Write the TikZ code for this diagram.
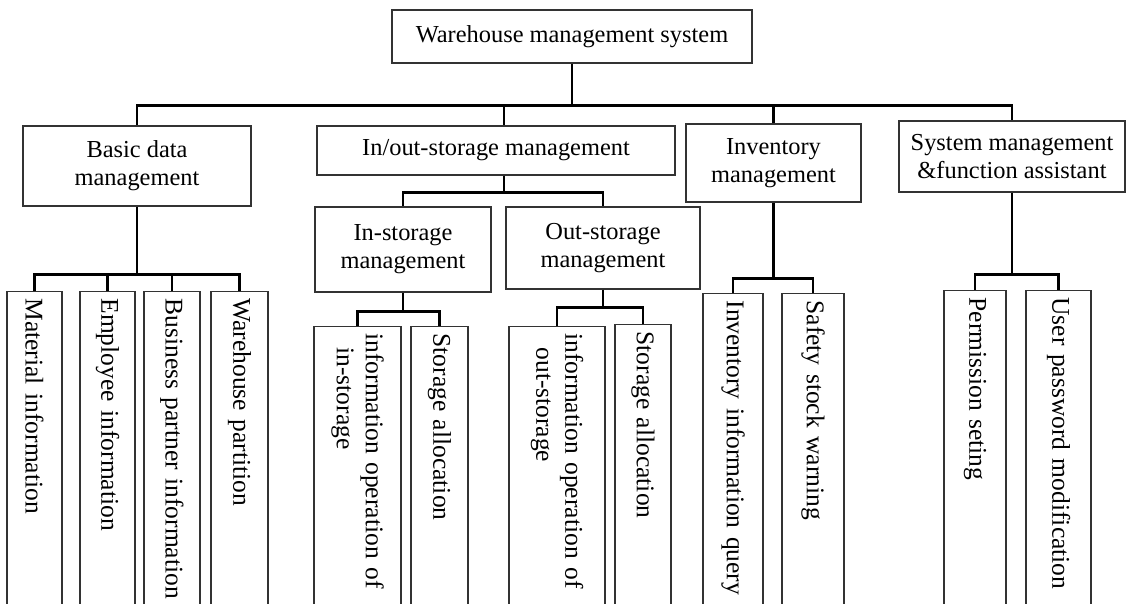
\documentclass[tikz,border=0pt]{standalone}
\usepackage{fontspec}
\setmainfont{Liberation Serif}
\usepackage{xcolor}
\definecolor{frame}{gray}{0.2}
\tikzset{
  every node/.style={
    text=black
  },
  box/.style={
    draw=frame, line width=1.1pt, align=center, inner sep=2pt,
    font=\fontsize{24.4}{28}\selectfont
  },
  leaf/.style={
    draw=frame, line width=1.1pt, rotate=-90, anchor=west,
    text width=322pt, align=left, inner xsep=7pt, inner ysep=2pt,
    font=\fontsize{25.5}{29}\selectfont
  },
  link/.style={
    line width=2.4pt, black
  }
}

\begin{document}
\begin{tikzpicture}[x=1pt,y=-1pt]
    \useasboundingbox (0,0) rectangle (1126,603);
    \clip (0,0) rectangle (1126,603);
    % top level
    \node[box, minimum width=360pt, minimum height=53pt] (wms) at (572,36.5) {Warehouse management system};
    \node[box, minimum width=228pt, minimum height=80pt] (basic) at (137,166) {Basic data\\management};
    \node[box, minimum width=358pt, minimum height=49pt] (io) at (496,150.5) {In/out-storage management};
    \node[box, minimum width=175pt, minimum height=78pt] (inv) at (773.5,163) {Inventory\\management};
    \node[box, minimum width=226pt, minimum height=71pt] (sys) at (1012,156.5) {System management\\\&function assistant};
    \node[box, minimum width=176pt, minimum height=85pt] (instor) at (403,249.5) {In-storage\\management};
    \node[box, minimum width=194pt, minimum height=82pt] (outstor) at (603,248) {Out-storage\\management};

    % leaves (text runs downwards)
    \node[leaf, minimum height=55pt] (mat) at (34.5,291) {Material information};
    \node[leaf, minimum height=55pt] (emp) at (107.5,291) {Employee information};
    \node[leaf, minimum height=56pt] (partner) at (172,291) {Business partner information};
    \node[leaf, minimum height=57pt] (part) at (239.5,291) {Warehouse partition};
    \node[leaf, minimum height=87pt] (inop) at (357.5,326) {information operation of\\\hspace*{14pt}in-storage};
    \node[leaf, minimum height=57pt] (inalloc) at (439.5,326) {Storage allocation};
    \node[leaf, minimum height=96pt] (outop) at (557,326) {information operation of\\\hspace*{14pt}out-storage};
    \node[leaf, minimum height=56pt] (outalloc) at (643,324) {Storage allocation};
    \node[leaf, minimum height=60pt] (query) at (733,293) {Inventory information query};
    \node[leaf, minimum height=62pt] (safety) at (813,293) {Safety stock warning};
    \node[leaf, minimum height=62pt] (perm) at (975,290) {Permission seting};
    \node[leaf, minimum height=65pt] (pwd) at (1058.5,290) {User password modification};

    % buses
    \path (wms.south) ++(0,42) coordinate (wmsbus);
    \path (basic.south) ++(0,68) coordinate (basicbus);
    \path ([xshift=8pt]io.south) ++(0,17) coordinate (iobus);
    \path (instor.south) ++(0,19) coordinate (inbus);
    \path (outstor.south) ++(0,18) coordinate (outbus);
    \path (inv.south) ++(0,76) coordinate (invbus);
    \path (sys.south) ++(0,82) coordinate (sysbus);

    \draw[link] (wms.south) -- (wmsbus);
    \foreach \n in {basic,inv,sys}
      \draw[link] (wmsbus) -| (\n.north);
    \draw[link] (wmsbus) -| ([xshift=8pt]io.north);

    \draw[link] (basic.south) -- (basicbus);
    \foreach \n in {mat,emp,partner,part}
      \draw[link] (basicbus) -| (\n.west);

    \draw[link] ([xshift=8pt]io.south) -- (iobus);
    \draw[link] (iobus) -| (instor.north);
    \draw[link] (iobus) -| (outstor.north);

    \draw[link] (instor.south) -- (inbus);
    \draw[link] (inbus) -| (inop.west);
    \draw[link] (inbus) -| (inalloc.west);

    \draw[link] (outstor.south) -- (outbus);
    \draw[link] (outbus) -| (outop.west);
    \draw[link] (outbus) -| (outalloc.west);

    \draw[link] (inv.south) -- (invbus);
    \draw[link] (invbus) -| (query.west);
    \draw[link] (invbus) -| (safety.west);

    \draw[link] (sys.south) -- (sysbus);
    \draw[link] (sysbus) -| (perm.west);
    \draw[link] (sysbus) -| (pwd.west);
\end{tikzpicture}
\end{document}
